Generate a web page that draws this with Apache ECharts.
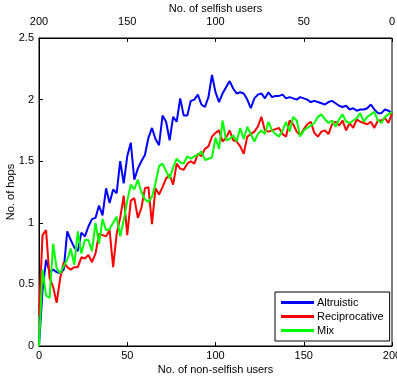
<!DOCTYPE html>
<html>
<head>
<meta charset="utf-8">
<script src="https://cdn.jsdelivr.net/npm/echarts@6/dist/echarts.min.js"></script>
<style>
  html, body { margin: 0; padding: 0; background: #fff; }
  #chart { width: 397px; height: 381px; }
</style>
</head>
<body>
<div id="chart"></div>
<script>
// non-selfish users sampled every 2 users, 0..200
const step = 2
const users = []
for (let i = 0; i <= 100; i++) users.push(i * step)

const altruistic = [
  0.00, 0.45, 0.70, 0.60, 0.62, 0.60, 0.59, 0.62, 0.93, 0.86,
  0.80, 0.77, 0.92, 0.89, 0.97, 1.03, 1.04, 1.14, 1.06, 1.28,
  1.16, 1.27, 1.24, 1.50, 1.32, 1.54, 1.65, 1.35, 1.44, 1.50,
  1.55, 1.69, 1.77, 1.68, 1.63, 1.87, 1.82, 1.67, 1.86, 1.82,
  2.01, 1.87, 1.87, 1.99, 2.00, 2.04, 1.96, 1.94, 2.02, 2.20,
  2.06, 1.98, 2.05, 2.10, 2.15, 2.09, 2.05, 2.06, 2.05, 2.00,
  1.93, 2.01, 2.04, 2.05, 2.01, 2.06, 2.02, 2.03, 2.03, 2.04,
  2.01, 2.02, 2.01, 2.00, 2.02, 2.01, 2.00, 1.98, 1.99, 1.98,
  1.97, 1.96, 1.98, 1.99, 1.97, 1.95, 1.94, 1.95, 1.92, 1.93,
  1.91, 1.92, 1.92, 1.93, 1.96, 1.92, 1.89, 1.89, 1.92, 1.91,
  1.89
]
const reciprocative = [
  0.25, 0.90, 0.94, 0.55, 0.48, 0.35, 0.55, 0.68, 0.64, 0.62,
  0.64, 0.64, 0.72, 0.71, 0.74, 0.68, 0.75, 0.91, 0.90, 0.89,
  0.94, 0.64, 0.91, 1.04, 1.22, 0.90, 1.18, 1.20, 1.04, 1.12,
  1.28, 1.29, 0.99, 1.28, 1.23, 1.29, 1.36, 1.39, 1.31, 1.48,
  1.44, 1.43, 1.48, 1.50, 1.48, 1.56, 1.54, 1.60, 1.62, 1.70,
  1.73, 1.75, 1.66, 1.69, 1.75, 1.67, 1.66, 1.62, 1.56, 1.70,
  1.72, 1.74, 1.78, 1.86, 1.75, 1.74, 1.75, 1.76, 1.77, 1.72,
  1.70, 1.83, 1.80, 1.74, 1.71, 1.76, 1.80, 1.82, 1.73, 1.70,
  1.74, 1.75, 1.72, 1.80, 1.82, 1.79, 1.83, 1.75, 1.81, 1.77,
  1.84, 1.82, 1.81, 1.80, 1.82, 1.77, 1.83, 1.83, 1.85, 1.81,
  1.89
]
const mix = [
  0.00, 0.62, 0.41, 0.39, 0.83, 0.63, 0.59, 0.65, 0.70, 0.79,
  0.66, 0.93, 0.75, 0.86, 0.86, 0.77, 1.00, 0.83, 1.03, 0.94,
  0.95, 1.00, 1.05, 0.89, 1.02, 1.18, 1.31, 1.27, 1.35, 1.25,
  1.19, 1.17, 1.21, 1.32, 1.46, 1.48, 1.42, 1.36, 1.45, 1.52,
  1.49, 1.48, 1.54, 1.52, 1.54, 1.55, 1.58, 1.51, 1.52, 1.53,
  1.69, 1.60, 1.83, 1.67, 1.68, 1.71, 1.66, 1.77, 1.68, 1.78,
  1.72, 1.66, 1.72, 1.75, 1.72, 1.82, 1.75, 1.72, 1.70, 1.75,
  1.82, 1.74, 1.86, 1.83, 1.70, 1.75, 1.77, 1.79, 1.81, 1.86,
  1.88, 1.84, 1.81, 1.83, 1.78, 1.84, 1.88, 1.82, 1.81, 1.83,
  1.85, 1.89, 1.82, 1.86, 1.88, 1.90, 1.83, 1.81, 1.86, 1.88,
  1.90
]

const fontFamily = 'Liberation Sans'

function pairs(vals) {
  return vals.map((v, i) => [users[i], v])
}

function makeSeries(name, color, vals) {
  return {
    name: name,
    type: 'line',
    data: pairs(vals),
    symbol: 'none',
    lineStyle: { color: color, width: 2 },
    itemStyle: { color: color },
    animation: false
  }
}

const chart = echarts.init(document.getElementById('chart'))
chart.setOption({
  textStyle: { fontFamily: fontFamily, color: '#000' },
  grid: {
    left: 39, right: 5, top: 38, bottom: 35,
    outerBoundsMode: 'none',
    containLabel: false,
    show: true, borderColor: '#000', borderWidth: 1
  },
  legend: {
    orient: 'vertical',
    left: 275, top: 292,
    padding: [5, 6, 5, 6],
    itemGap: 3,
    itemWidth: 33,
    itemHeight: 3,
    icon: 'rect',
    backgroundColor: '#fff',
    borderColor: '#000',
    borderWidth: 1,
    textStyle: { fontFamily: fontFamily, fontSize: 11, color: '#000', padding: [0, 0, 0, -2] },
    data: ['Altruistic', 'Reciprocative', 'Mix']
  },
  xAxis: [{
    type: 'value',
    min: 0, max: 200, interval: 50,
    name: 'No. of non-selfish users',
    nameLocation: 'middle',
    nameGap: 18,
    nameMoveOverlap: false,
    nameTextStyle: { fontSize: 11, color: '#000' },
    axisLine: { lineStyle: { color: '#000' } },
    axisTick: { inside: true, length: 4, lineStyle: { color: '#000' } },
    axisLabel: { fontSize: 11, color: '#000', margin: 4 },
    splitLine: { show: false }
  }, {
    type: 'value',
    position: 'top',
    inverse: true,
    min: 0, max: 200, interval: 50,
    name: 'No. of selfish users',
    nameLocation: 'middle',
    nameGap: 24,
    nameMoveOverlap: false,
    nameTextStyle: { fontSize: 11, color: '#000' },
    axisLine: { lineStyle: { color: '#000' } },
    axisTick: { inside: true, length: 4, lineStyle: { color: '#000' } },
    axisLabel: { fontSize: 11, color: '#000', margin: 11 },
    splitLine: { show: false }
  }],
  yAxis: [{
    type: 'value',
    min: 0, max: 2.5, interval: 0.5,
    name: 'No. of hops',
    nameLocation: 'middle',
    nameGap: 23,
    nameMoveOverlap: false,
    nameTextStyle: { fontSize: 11, color: '#000' },
    axisLine: { show: true, lineStyle: { color: '#000' } },
    axisTick: { show: true, inside: true, length: 4, lineStyle: { color: '#000' } },
    axisLabel: { fontSize: 11, color: '#000', margin: 5 },
    splitLine: { show: false }
  }],
  series: [
    makeSeries('Altruistic', '#0000ff', altruistic),
    makeSeries('Reciprocative', '#ff0000', reciprocative),
    makeSeries('Mix', '#00ff00', mix)
  ]
})
</script>
</body>
</html>
